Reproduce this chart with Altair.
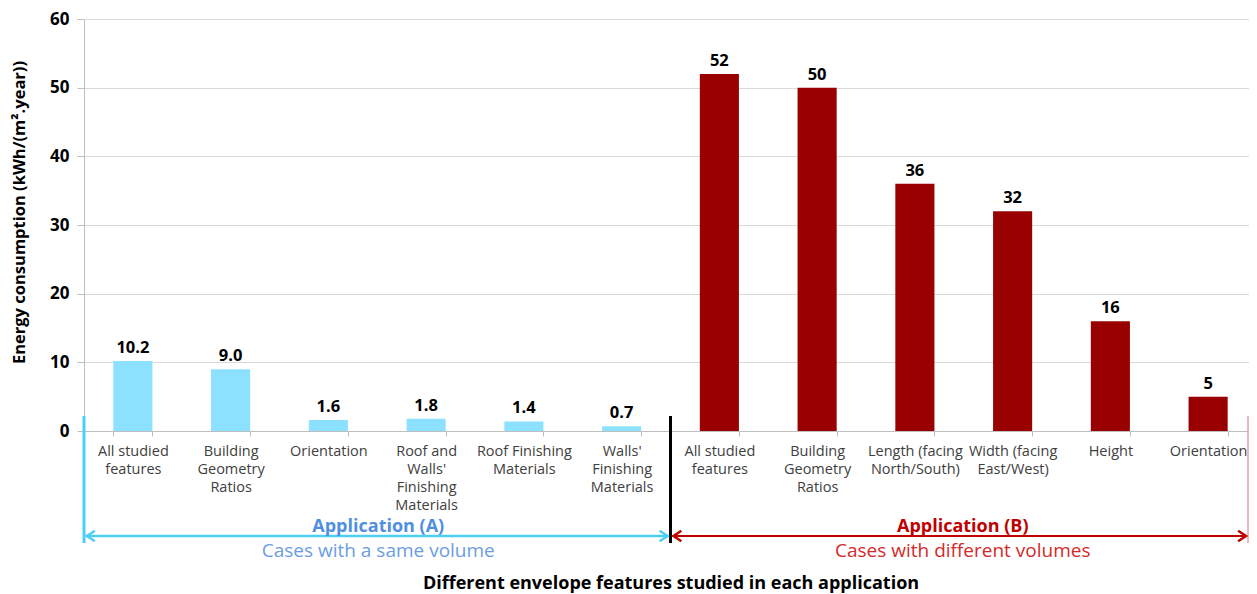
import json
import altair as alt
import pandas as pd

# ---- data ----
keys = ["A1", "A2", "A3", "A4", "A5", "A6", "B1", "B2", "B3", "B4", "B5", "B6"]
groups = ["A"] * 6 + ["B"] * 6
values = [10.2, 9.0, 1.6, 1.8, 1.4, 0.7, 52, 50, 36, 32, 16, 5]
value_labels = ["10.2", "9.0", "1.6", "1.8", "1.4", "0.7", "52", "50", "36", "32", "16", "5"]
tick_labels = [
    "All studied|features",
    "Building|Geometry|Ratios",
    "Orientation",
    "Roof and|Walls'|Finishing|Materials",
    "Roof Finishing|Materials",
    "Walls'|Finishing|Materials",
    "All studied|features",
    "Building|Geometry|Ratios",
    "Length (facing|North/South)",
    "Width (facing|East/West)",
    "Height",
    "Orientation",
]

df = pd.DataFrame({"key": keys, "group": groups, "value": values, "vlabel": value_labels})

W, H = 1165, 412      # visible plot area
WR = 1173             # x range (extends to the window edge)
FONT = "Open Sans"

label_map = json.dumps({k: l.split("|") for k, l in zip(keys, tick_labels)})

x_enc = alt.X(
    "key:N",
    sort=keys,
    scale=alt.Scale(paddingInner=0.6, paddingOuter=0.3, range=[0, WR]),
    axis=alt.Axis(
        title="Different envelope features studied in each application",
        labelExpr=label_map + "[datum.value]",
        labelAngle=0,
        labelFont=FONT,
        labelFontSize=14.5,
        labelColor="#404040",
        labelLineHeight=18,
        labelPadding=8,
        labelBaseline="top",
        tickBand="extent",
        tickSize=5,
        tickColor="#BFBFBF",
        domainColor="#BFBFBF",
        titleFont=FONT,
        titleFontSize=18,
        titleFontWeight="bold",
        titleColor="#000000",
        titleY=152,
        titleBaseline="middle",
    ),
)

y_enc = alt.Y(
    "value:Q",
    scale=alt.Scale(domain=[0, 60], nice=False),
    axis=alt.Axis(
        title="Energy consumption (kWh/(m².year))",
        values=[0, 10, 20, 30, 40, 50, 60],
        labelFont=FONT,
        labelFontSize=17,
        labelFontWeight="bold",
        labelColor="#000000",
        labelPadding=8,
        tickSize=7,
        tickColor="#BFBFBF",
        domainColor="#BFBFBF",
        gridColor="#D9D9D9",
        grid=True,
        titleFont=FONT,
        titleFontSize=16.5,
        titleFontWeight="bold",
        titleColor="#000000",
        titleX=-65,
        titleY=193,
        titleBaseline="middle",
    ),
)

color_enc = alt.Color(
    "group:N",
    scale=alt.Scale(domain=["A", "B"], range=["#8CE1FF", "#990000"]),
    legend=None,
)

bars = alt.Chart(df).mark_bar().encode(x=x_enc, y=y_enc, color=color_enc)

vals = alt.Chart(df).mark_text(
    font=FONT, fontSize=16.5, fontWeight="bold", baseline="bottom", dy=-5, color="#000000"
).encode(x=alt.X("key:N", sort=keys), y="value:Q", text="vlabel:N")

# ---- annotations below the axis ----
ann = pd.DataFrame({"d": [0]})
base = alt.Chart(ann)

BLUE = "#4DCFF5"
RED = "#C00000"
Y_ARROW = 517
Y0, Y1 = 397, 524
MID = WR / 2

blue_vline = base.mark_rule(color=BLUE, strokeWidth=3).encode(
    x=alt.value(0), y=alt.value(Y0), y2=alt.value(Y1))
red_vline = base.mark_rule(color="#E8A0A0", strokeWidth=1.5).encode(
    x=alt.value(W - 1), y=alt.value(Y0), y2=alt.value(Y1))
black_vline = base.mark_rule(color="#000000", strokeWidth=3).encode(
    x=alt.value(MID), y=alt.value(Y0), y2=alt.value(Y1))

blue_arrow = base.mark_rule(color=BLUE, strokeWidth=2.5).encode(
    x=alt.value(2), x2=alt.value(MID - 2), y=alt.value(Y_ARROW))
red_arrow = base.mark_rule(color=RED, strokeWidth=2).encode(
    x=alt.value(MID + 2), x2=alt.value(W - 2), y=alt.value(Y_ARROW))

LEFT = "M1.5,-1L0,0L1.5,1"
RIGHT = "M-1.5,-1L0,0L-1.5,1"


def head(xpix, shape, col):
    return base.mark_point(shape=shape, size=110, filled=False, color=col,
                           strokeWidth=2.5, opacity=1).encode(
        x=alt.value(xpix), y=alt.value(Y_ARROW))


heads = [
    head(3, LEFT, BLUE),
    head(MID - 3, RIGHT, BLUE),
    head(MID + 3, LEFT, RED),
    head(W - 3, RIGHT, RED),
]


def txt(s, xpix, ypix, col, bold, size):
    return base.mark_text(text=s, font=FONT, fontSize=size,
                          fontWeight="bold" if bold else "normal",
                          color=col, align="center", baseline="middle").encode(
        x=alt.value(xpix), y=alt.value(ypix))


texts = [
    txt("Application (A)", WR / 4 + 1, 508, "#4F8FE0", True, 18),
    txt("Cases with a same volume", WR / 4 + 1, 532, "#6C9DE2", False, 19),
    txt("Application (B)", 3 * WR / 4 - 1, 508, RED, True, 18),
    txt("Cases with different volumes", 3 * WR / 4 - 1, 532, "#D42A2A", False, 19),
]

chart = alt.layer(
    bars, vals, blue_vline, red_vline, black_vline, blue_arrow, red_arrow, *heads, *texts
).properties(
    width=W,
    height=H,
    autosize=alt.AutoSizeParams(type="none"),
    padding={"left": 76, "top": 11, "right": 0, "bottom": 163},
).configure_view(strokeWidth=0)

chart.save("out.html", embed_options={"renderer": "svg", "actions": False})
